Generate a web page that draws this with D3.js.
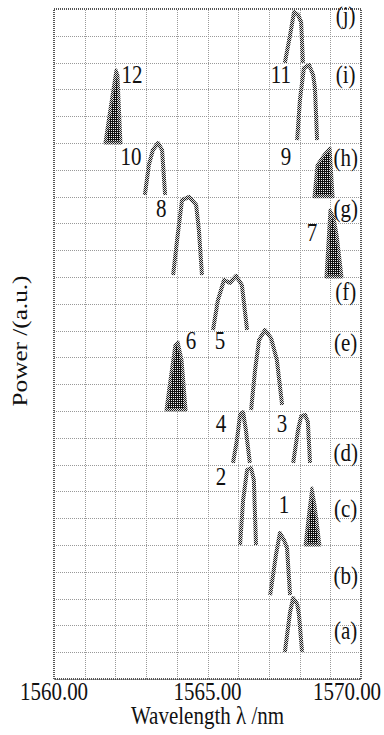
<!DOCTYPE html>
<html>
<head>
<meta charset="utf-8">
<script src="https://cdn.jsdelivr.net/npm/d3@7"></script>
<style>
  body { margin: 0; background: #fff; }
  text { font-family: "Liberation Serif", "Times New Roman", serif; fill: #111; }
</style>
</head>
<body>
<script>
// x ticks and panel labels
var xTicks = [1560, 1565, 1570];
var panelLabels = ["(a)", "(b)", "(c)", "(d)", "(e)", "(f)", "(g)", "(h)", "(i)", "(j)"];
var panelLabelY = [1.75, 3.8, 6.3, 8.4, 12.5, 14.4, 17.5, 19.4, 22.5, 24.7];

// peak numbers
var peakNums = ["1", "2", "3", "4", "5", "6", "7", "8", "9", "10", "11", "12"];
var peakNumX = [1567.49, 1565.44, 1567.43, 1565.44, 1565.41, 1564.46, 1568.40, 1563.49, 1567.56, 1562.51, 1567.39, 1562.54];
var peakNumY = [6.46, 7.5, 9.48, 9.48, 12.57, 12.57, 16.6, 17.5, 19.44, 19.44, 22.5, 22.5];

// spectra, [wavelength nm, power a.u. + offset]
var specA = [[1567.52, 1.01], [1567.69, 2.50], [1567.79, 3.02], [1567.92, 2.80], [1567.98, 2.39], [1568.08, 1.01]];
var specB = [[1567.04, 3.13], [1567.23, 4.63], [1567.36, 5.45], [1567.49, 5.19], [1567.59, 4.89], [1567.69, 3.13]];
var spec1 = [[1568.18, 5.00], [1568.31, 6.31], [1568.40, 7.13], [1568.50, 6.49], [1568.66, 5.00]];
var spec2 = [[1566.06, 5.00], [1566.16, 6.68], [1566.29, 7.80], [1566.42, 7.87], [1566.51, 7.43], [1566.58, 5.00]];
var spec3 = [[1567.79, 8.06], [1567.95, 9.29], [1568.05, 9.81], [1568.18, 9.85], [1568.27, 9.59], [1568.34, 8.06]];
var spec4 = [[1565.83, 8.06], [1565.96, 8.92], [1566.06, 9.85], [1566.16, 9.96], [1566.25, 9.29], [1566.38, 8.06]];
var spec5 = [[1566.42, 10.04], [1566.55, 11.53], [1566.68, 12.65], [1566.87, 13.02], [1567.07, 12.72], [1567.26, 11.90], [1567.43, 10.22]];
var spec6 = [[1563.65, 10.04], [1563.78, 11.16], [1563.94, 12.46], [1564.04, 12.57], [1564.17, 11.90], [1564.30, 10.04]];
var specF = [[1565.18, 13.02], [1565.34, 14.14], [1565.54, 14.89], [1565.73, 14.78], [1565.93, 15.04], [1566.12, 14.70], [1566.29, 13.02]];
var spec7 = [[1568.86, 15.00], [1568.99, 17.50], [1569.12, 17.20], [1569.22, 16.57], [1569.38, 15.00]];
var spec8 = [[1563.88, 15.07], [1564.01, 16.38], [1564.17, 17.87], [1564.40, 17.99], [1564.63, 17.69], [1564.72, 16.75], [1564.82, 15.07]];
var spec9 = [[1568.47, 17.99], [1568.57, 19.18], [1568.79, 19.55], [1568.99, 19.81], [1569.09, 17.99]];
var spec10 = [[1562.96, 18.06], [1563.09, 19.18], [1563.22, 19.74], [1563.39, 20.00], [1563.52, 19.74], [1563.62, 18.06]];
var spec11 = [[1567.92, 20.11], [1568.01, 21.60], [1568.14, 22.80], [1568.31, 22.91], [1568.44, 22.54], [1568.50, 22.05], [1568.57, 20.11]];
var spec12 = [[1561.66, 20.00], [1561.82, 21.23], [1562.02, 22.72], [1562.08, 22.54], [1562.18, 20.00]];
var specJ = [[1567.52, 22.99], [1567.69, 24.03], [1567.82, 24.89], [1567.95, 24.78], [1568.05, 24.51], [1568.11, 22.99]];

var lightSpectra = [specA, specB, spec2, spec3, spec4, spec5, specF, spec8, spec10, spec11, specJ];
var denseSpectra = [spec1, spec6, spec7, spec9, spec12];

var W = 384, H = 735;
var margin = {top: 9, right: 23, bottom: 56, left: 54};
var x = d3.scaleLinear().domain([1560, 1570]).range([margin.left, W - margin.right]);
var y = d3.scaleLinear().domain([0, 25]).range([H - margin.bottom, margin.top]);

var svg = d3.select("body").append("svg")
  .attr("width", W).attr("height", H);

// halftone patterns
var defs = svg.append("defs");
var ht = defs.append("pattern").attr("id", "ht")
  .attr("width", 2).attr("height", 2).attr("patternUnits", "userSpaceOnUse");
ht.append("rect").attr("width", 2).attr("height", 2).attr("fill", "#ddd");
ht.append("rect").attr("x", 0).attr("y", 0).attr("width", 1).attr("height", 1).attr("fill", "#222");
ht.append("rect").attr("x", 1).attr("y", 1).attr("width", 1).attr("height", 1).attr("fill", "#222");
var dn = defs.append("pattern").attr("id", "dn")
  .attr("width", 2).attr("height", 2).attr("patternUnits", "userSpaceOnUse");
dn.append("rect").attr("width", 2).attr("height", 2).attr("fill", "#111");
dn.append("rect").attr("x", 1).attr("y", 0).attr("width", 1).attr("height", 1).attr("fill", "#eee");

// grid
var gridStyle = function(g) {
  g.select(".domain").remove();
  g.selectAll(".tick line")
    .attr("stroke", "#999")
    .attr("stroke-dasharray", "1,1")
    .attr("shape-rendering", "crispEdges");
  g.selectAll(".tick text").remove();
};
svg.append("g")
  .attr("transform", "translate(0," + y(0) + ")")
  .call(d3.axisBottom(x).tickValues(d3.range(1560, 1571, 1)).tickSize(-(y(0) - y(25))))
  .call(gridStyle);
svg.append("g")
  .attr("transform", "translate(" + x(1560) + ",0)")
  .call(d3.axisLeft(y).tickValues(d3.range(0, 26, 1)).tickSize(-(x(1570) - x(1560))))
  .call(gridStyle);

// frame
svg.append("rect")
  .attr("x", x(1560)).attr("y", y(25))
  .attr("width", x(1570) - x(1560)).attr("height", y(0) - y(25))
  .attr("fill", "none").attr("stroke", "#555").attr("stroke-width", 1.5)
  .attr("stroke-dasharray", "1,1")
  .attr("shape-rendering", "crispEdges");

// spectra
var line = d3.line().x(function(d) { return x(d[0]); }).y(function(d) { return y(d[1]); });

svg.selectAll(".light").data(lightSpectra).enter().append("path")
  .attr("class", "light")
  .attr("d", line)
  .attr("fill", "none")
  .attr("stroke", "url(#ht)")
  .attr("stroke-width", 4)
  .attr("stroke-linejoin", "round");

svg.selectAll(".dense").data(denseSpectra).enter().append("path")
  .attr("class", "dense")
  .attr("d", function(d) { return line(d) + "Z"; })
  .attr("fill", "url(#dn)")
  .attr("stroke", "url(#ht)")
  .attr("stroke-width", 3)
  .attr("stroke-linejoin", "round");

// text, the picture is stretched vertically
var stretch = 1.2;
var fs = 21;

svg.selectAll(".xtick").data(xTicks).enter().append("text")
  .attr("class", "xtick")
  .attr("transform", function(d, i) {
    var px = x(d) + (i === xTicks.length - 1 ? -14 : 0);
    return "translate(" + px + "," + (y(0) + 21) + ") scale(1," + stretch + ")";
  })
  .attr("text-anchor", "middle")
  .style("font-size", fs + "px")
  .text(d3.format(".2f"));

svg.append("text")
  .attr("transform", "translate(" + ((x(1560) + x(1570)) / 2) + "," + (y(0) + 45) + ") scale(1," + stretch + ")")
  .attr("text-anchor", "middle")
  .style("font-size", fs + "px")
  .text("Wavelength \u03bb /nm");

svg.append("text")
  .attr("transform", "translate(27," + ((y(0) + y(25)) / 2 - 3) + ") rotate(-90) scale(" + stretch + ",1)")
  .attr("text-anchor", "middle")
  .style("font-size", fs + "px")
  .text("Power /(a.u.)");

svg.selectAll(".plab").data(panelLabels).enter().append("text")
  .attr("class", "plab")
  .attr("transform", function(d, i) {
    return "translate(" + x(1569.5) + "," + (y(panelLabelY[i]) + 7) + ") scale(1," + stretch + ")";
  })
  .attr("text-anchor", "middle")
  .style("font-size", fs + "px")
  .text(function(d) { return d; });

svg.selectAll(".pnum").data(peakNums).enter().append("text")
  .attr("class", "pnum")
  .attr("transform", function(d, i) {
    return "translate(" + x(peakNumX[i]) + "," + (y(peakNumY[i]) + 7) + ") scale(1," + stretch + ")";
  })
  .attr("text-anchor", "middle")
  .style("font-size", fs + "px")
  .text(function(d) { return d; });
</script>
</body>
</html>
